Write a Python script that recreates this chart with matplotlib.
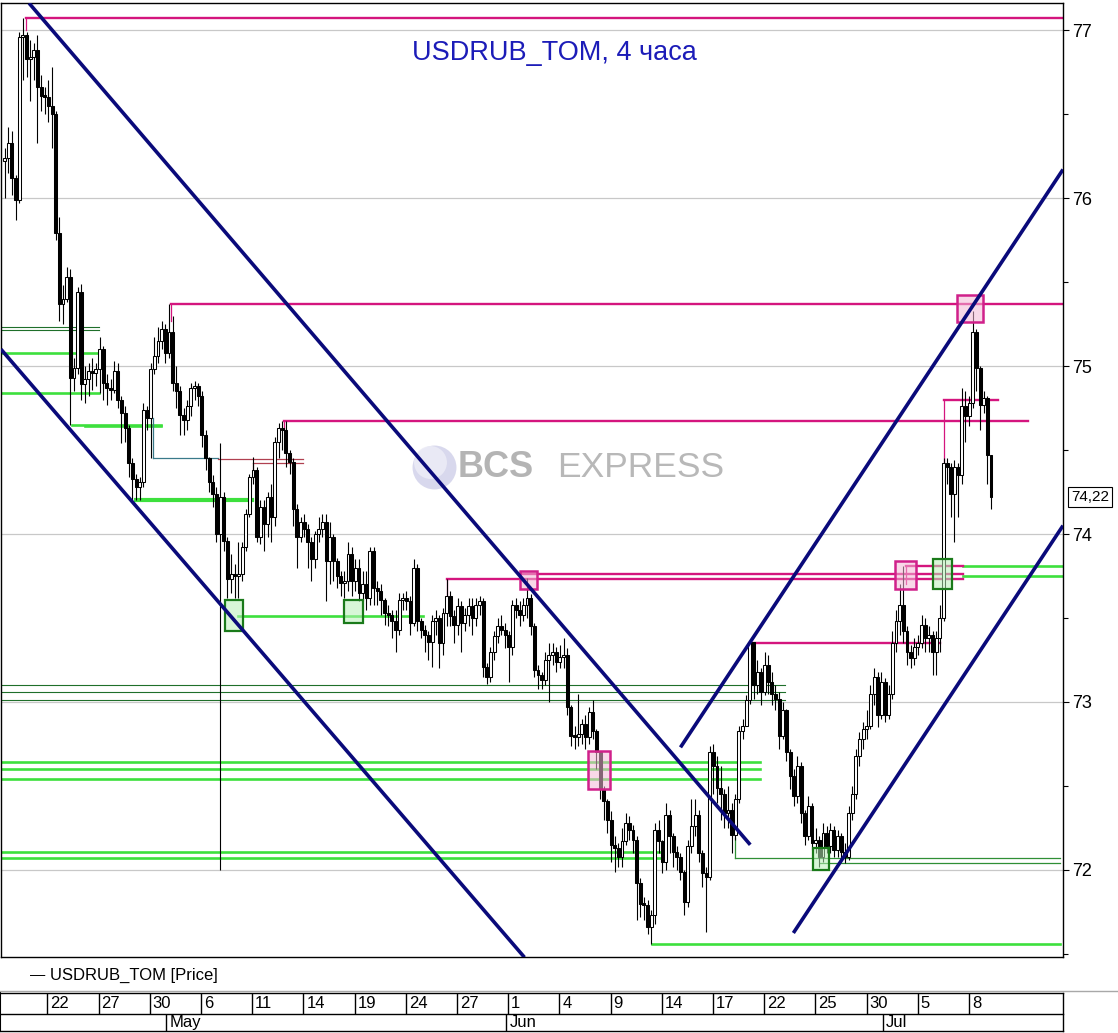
import matplotlib
matplotlib.use("Agg")
import matplotlib.pyplot as plt
import matplotlib.transforms as mtransforms
from matplotlib.lines import Line2D
from matplotlib.patches import Rectangle
import numpy as np

plt.rcParams['font.family'] = ['Liberation Sans', 'DejaVu Sans']

# 4h candles, bar index 0..270 (open of each bar = previous close)
first_open = 76.22
close = [
    76.24, 76.33, 76.12, 75.99, 76.96, 76.97, 76.83, 76.84, 76.88, 76.66,
    76.61, 76.60, 76.55, 76.50, 75.79, 75.37, 75.40, 75.53, 74.93, 74.99,
    75.44, 74.89, 74.92, 74.97, 74.96, 74.98, 75.10, 74.90, 74.87, 74.86,
    74.97, 74.80, 74.72, 74.63, 74.42, 74.33, 74.28, 74.31, 74.74, 74.69,
    74.98, 75.06, 75.15, 75.22, 75.08, 75.20, 74.90, 74.85, 74.71, 74.68,
    74.76, 74.87, 74.88, 74.82, 74.59, 74.45, 74.31, 74.24, 74.00, 74.22,
    73.96, 73.73, 73.76, 73.75, 73.76, 73.92, 74.12, 74.34, 74.38, 73.98,
    74.16, 74.06, 74.22, 74.10, 74.55, 74.63, 74.62, 74.48, 74.43, 74.15,
    73.98, 74.07, 74.03, 73.95, 73.85, 74.00, 74.03, 74.07, 73.84, 73.98,
    73.84, 73.75, 73.71, 73.72, 73.88, 73.72, 73.80, 73.65, 73.70, 73.62,
    73.90, 73.68, 73.66, 73.61, 73.53, 73.52, 73.48, 73.43, 73.61, 73.62,
    73.60, 73.47, 73.80, 73.48, 73.43, 73.40, 73.36, 73.48, 73.50, 73.35,
    73.53, 73.63, 73.51, 73.46, 73.57, 73.47, 73.52, 73.57, 73.50, 73.58,
    73.60, 73.21, 73.15, 73.30, 73.39, 73.45, 73.43, 73.40, 73.33, 73.58,
    73.55, 73.52, 73.58, 73.62, 73.45, 73.19, 73.16, 73.13, 73.25, 73.28,
    73.30, 73.24, 73.27, 73.28, 72.97, 72.80, 72.79, 72.81, 72.87, 72.79,
    72.94, 72.83, 72.70, 72.48, 72.41, 72.30, 72.15, 72.13, 72.08, 72.17,
    72.28, 72.24, 72.18, 71.92, 71.80, 71.79, 71.66, 71.73, 72.24, 72.17,
    72.05, 72.33, 72.20, 72.11, 72.08, 71.99, 71.81, 72.14, 72.26, 72.33,
    72.10, 71.98, 71.96, 72.70, 72.62, 72.49, 72.45, 72.34, 72.36, 72.21,
    72.42, 72.83, 72.86, 73.01, 73.36, 73.10, 73.18, 73.06, 73.22, 73.12,
    73.05, 73.02, 72.80, 72.95, 72.70, 72.56, 72.44, 72.62, 72.34, 72.20,
    72.38, 72.16, 72.18, 72.08, 72.22, 72.14, 72.24, 72.12, 72.20, 72.11,
    72.08, 72.34, 72.45, 72.68, 72.78, 72.84, 72.86, 73.05, 73.15, 72.92,
    73.12, 72.92, 73.05, 73.35, 73.48, 73.58, 73.42, 73.30, 73.26, 73.33,
    73.35, 73.46, 73.38, 73.40, 73.30, 73.38, 73.50, 74.42, 74.40, 74.24,
    74.40, 74.35, 74.76, 74.70, 74.78, 75.20, 74.99, 74.77, 74.81, 74.47,
    74.22]
high = [
    76.30, 76.42, 76.40, 76.14, 76.99, 77.07, 76.99, 76.94, 76.92, 76.97,
    76.73, 76.66, 76.70, 76.78, 76.52, 75.89, 75.48, 75.59, 75.58, 75.05,
    75.47, 75.49, 75.00, 75.02, 75.05, 75.02, 75.17, 75.12, 74.95, 74.92,
    75.03, 75.02, 74.82, 74.76, 74.65, 74.45, 74.36, 74.34, 74.78, 74.76,
    75.02, 75.17, 75.23, 75.27, 75.25, 75.37, 75.30, 75.00, 74.88, 74.75,
    74.80, 74.90, 74.91, 74.90, 74.85, 74.62, 74.46, 74.35, 74.28, 74.54,
    74.25, 73.98, 73.88, 73.82, 73.95, 73.95, 74.15, 74.36, 74.46, 74.40,
    74.20, 74.20, 74.25, 74.30, 74.58, 74.66, 74.67, 74.67, 74.50, 74.45,
    74.18, 74.10, 74.12, 74.06, 73.98, 74.02, 74.10, 74.12, 74.12, 74.07,
    74.00, 73.86, 73.78, 73.78, 73.95, 73.92, 73.85, 73.85, 73.78, 73.78,
    73.92, 73.92, 73.72, 73.70, 73.62, 73.58, 73.55, 73.55, 73.65, 73.65,
    73.66, 73.63, 73.85, 73.82, 73.50, 73.46, 73.42, 73.52, 73.55, 73.52,
    73.56, 73.73, 73.66, 73.55, 73.62, 73.60, 73.56, 73.62, 73.62, 73.62,
    73.63, 73.62, 73.23, 73.33, 73.42, 73.50, 73.52, 73.47, 73.42, 73.61,
    73.62, 73.60, 73.62, 73.74, 73.64, 73.47, 73.22, 73.18, 73.30, 73.35,
    73.35, 73.33, 73.34, 73.38, 73.32, 72.98, 72.86, 73.05, 72.90, 72.92,
    72.97, 73.01, 72.84, 72.70, 72.50, 72.42, 72.35, 72.20, 72.16, 72.25,
    72.34, 72.32, 72.27, 72.20, 71.95, 71.84, 71.82, 71.76, 72.28, 72.30,
    72.18, 72.40, 72.36, 72.22, 72.14, 72.10, 72.00, 72.18, 72.42, 72.42,
    72.36, 72.12, 72.02, 72.74, 72.75, 72.68, 72.62, 72.48, 72.50, 72.40,
    72.45, 72.86, 72.90, 73.04, 73.35, 73.28, 73.25, 73.20, 73.30, 73.28,
    73.18, 73.10, 73.06, 73.00, 72.96, 72.72, 72.60, 72.68, 72.64, 72.36,
    72.44, 72.40, 72.25, 72.20, 72.28, 72.26, 72.28, 72.26, 72.24, 72.22,
    72.16, 72.38, 72.50, 72.72, 72.82, 72.88, 72.95, 73.10, 73.20, 73.18,
    73.18, 73.14, 73.10, 73.42, 73.55, 73.70, 73.81, 73.45, 73.34, 73.38,
    73.40, 73.52, 73.50, 73.45, 73.42, 73.42, 73.58, 74.45, 74.45, 74.42,
    74.44, 74.42, 74.87, 74.85, 74.82, 75.33, 75.22, 75.00, 74.85, 74.82,
    74.46]
low = [
    76.00, 76.15, 76.02, 75.87, 75.97, 76.70, 76.72, 76.58, 76.70, 76.33,
    76.52, 76.50, 76.45, 76.30, 75.75, 75.27, 75.25, 75.38, 74.65, 74.85,
    74.95, 74.80, 74.78, 74.82, 74.86, 74.88, 74.84, 74.80, 74.77, 74.80,
    74.84, 74.75, 74.54, 74.55, 74.34, 74.20, 74.20, 74.20, 74.28, 74.62,
    74.45, 74.95, 75.02, 75.10, 75.02, 75.05, 74.85, 74.75, 74.59, 74.59,
    74.62, 74.70, 74.80, 74.76, 74.52, 74.38, 74.25, 74.16, 73.95, 72.00,
    73.90, 73.62, 73.65, 73.62, 73.62, 73.72, 73.90, 74.10, 74.30, 73.95,
    73.94, 73.90, 73.98, 73.95, 74.05, 74.45, 74.50, 74.40, 74.36, 74.05,
    73.80, 73.95, 73.98, 73.80, 73.72, 73.80, 73.95, 73.98, 73.60, 73.70,
    73.72, 73.68, 73.63, 73.62, 73.66, 73.63, 73.66, 73.60, 73.60, 73.55,
    73.58, 73.58, 73.58, 73.52, 73.46, 73.45, 73.38, 73.30, 73.40, 73.55,
    73.55, 73.40, 73.45, 73.42, 73.38, 73.30, 73.25, 73.21, 73.40, 73.20,
    73.28, 73.45, 73.45, 73.35, 73.40, 73.30, 73.42, 73.45, 73.40, 73.45,
    73.52, 73.15, 73.11, 73.12, 73.25, 73.35, 73.40, 73.32, 73.12, 73.28,
    73.50, 73.45, 73.48, 73.50, 73.40, 73.15, 73.08, 73.08, 73.10, 73.00,
    73.22, 73.18, 73.20, 73.20, 72.92, 72.74, 72.72, 72.74, 72.75, 72.72,
    72.75, 72.78, 72.60, 72.42, 72.30, 72.22, 72.05, 71.99, 72.02, 72.02,
    72.15, 72.18, 72.10, 71.70, 71.72, 71.70, 71.62, 71.56, 71.68, 72.10,
    71.98, 72.00, 72.10, 72.02, 72.00, 71.94, 71.73, 71.78, 72.10, 72.20,
    72.05, 71.90, 71.63, 71.94, 72.45, 72.40, 72.30, 72.25, 72.25, 72.10,
    72.18, 72.40, 72.78, 72.86, 72.99, 73.02, 73.05, 72.98, 73.04, 73.05,
    72.98, 72.95, 72.72, 72.78, 72.65, 72.48, 72.38, 72.40, 72.28, 72.15,
    72.18, 72.12, 72.10, 72.02, 72.05, 72.10, 72.10, 72.08, 72.08, 72.06,
    72.04, 72.06, 72.30, 72.42, 72.62, 72.72, 72.78, 72.84, 72.98, 72.85,
    72.90, 72.88, 72.90, 73.02, 73.30, 73.40, 73.35, 73.22, 73.20, 73.22,
    73.28, 73.32, 73.30, 73.30, 73.16, 73.16, 73.30, 73.48, 74.30, 74.10,
    73.95, 74.10, 74.30, 74.55, 74.64, 74.75, 74.85, 74.62, 74.72, 74.30,
    74.15]
last_price = 74.22

# date strip
day_labels = ['22', '27', '30', '6', '11', '14', '19', '24', '27', '1',
              '4', '9', '14', '17', '22', '25', '30', '5', '8']
day_bars = [12 + 14 * k for k in range(len(day_labels))]
month_labels = ['May', 'Jun', 'Jul']
month_bars = [44.5, 137.5, 240.5]

# drawn levels: (price, from bar, to bar)
magenta_lines = [(77.07, 5.9, 289.7), (75.37, 45.5, 289.7), (74.67, 76.4, 280.1),
                 (74.80, 257.2, 271.9), (73.73, 121.0, 262.4), (73.76, 141.0, 262.4),
                 (73.81, 246.8, 262.4), (73.35, 204.1, 256.1)]
magenta_drops = [(5.9, 77.07, 77.0), (45.5, 75.37, 75.27), (257.2, 74.80, 74.42),
                 (121.0, 73.73, 73.63), (246.8, 73.81, 73.70), (76.4, 74.67, 74.62)]
green_lines = [(75.08, -1, 25.8), (74.84, -1, 25.8), (74.65, 18.4, 42.8),
               (74.64, 22.0, 42.8), (73.51, 63.8, 114.4), (72.64, -1, 206.8),
               (72.60, -1, 206.8), (72.54, -1, 206.8), (72.11, -1, 179.5),
               (72.07, -1, 179.5), (71.56, 177.3, 289.0), (73.81, 262.4, 289.7),
               (73.75, 262.4, 289.7)]
green_thick = [(74.20, 35.9, 67.7)]
dark_green_lines = [(75.23, -1, 25.8), (75.215, -1, 25.8), (73.10, -1, 213.7),
                    (73.06, -1, 213.7), (73.01, -1, 213.7)]
mid_green_lines = [(72.07, 200.0, 289.0), (72.04, 223.2, 289.0)]
teal_lines = [(74.45, 40.6, 58.4)]
red_lines = [(74.445, 58.4, 81.6), (74.42, 67.9, 81.6)]

magenta_boxes = [(260.7, 267.8, 75.26, 75.42), (243.8, 249.5, 73.67, 73.84),
                 (141.0, 145.6, 73.67, 73.78), (159.8, 165.8, 72.48, 72.71)]
green_boxes = [(254.1, 259.3, 73.67, 73.85), (60.3, 65.2, 73.42, 73.61),
               (92.8, 98.0, 73.47, 73.61), (221.3, 225.7, 72.00, 72.13)]

trend_lines = [(6.7, 77.16, 204.1, 72.15), (-1.0, 75.10, 142.3, 71.48),
               (185.0, 72.73, 289.7, 76.17), (215.9, 71.625, 289.7, 74.05)]

W, H = 1118, 1033
fig = plt.figure(figsize=(W / 100, H / 100), dpi=100)
ax = fig.add_axes([1 / W, 1 - 957 / H, 1062 / W, 954 / H])
xmin, xmax = -0.98, 289.7
ax.set_xlim(xmin, xmax)
ax.set_ylim(71.482, 77.161)

for p in range(72, 78):
    ax.axhline(p, color='#c8c8c8', lw=0.9, zorder=1)

# overlay levels
for p, a, b in dark_green_lines:
    ax.plot([a, b], [p, p], color='#1f6f2a', lw=0.8, zorder=2)
for p, a, b in mid_green_lines:
    ax.plot([a, b], [p, p], color='#2f8f35', lw=0.9, zorder=2)
ax.plot([200.0, 200.0], [72.19, 72.07], color='#2f8f35', lw=0.9, zorder=2)
for p, a, b in green_lines:
    ax.plot([a, b], [p, p], color='#3de03d', lw=1.9, zorder=2)
for p, a, b in green_thick:
    ax.plot([a, b], [p, p], color='#3de03d', lw=3.0, zorder=2)
for p, a, b in teal_lines:
    ax.plot([a, b], [p, p], color='#3a7a8a', lw=0.9, zorder=2)
ax.plot([40.6, 40.6], [74.69, 74.45], color='#3a7a8a', lw=0.9, zorder=2)
for p, a, b in red_lines:
    ax.plot([a, b], [p, p], color='#b04050', lw=0.9, zorder=2)
ax.plot([67.9, 67.9], [74.42, 74.34], color='#b04050', lw=0.9, zorder=2)
for p, a, b in magenta_lines:
    ax.plot([a, b], [p, p], color='#d4157e', lw=1.7, zorder=2)
for xx, p0, p1 in magenta_drops:
    ax.plot([xx, xx], [p0, p1], color='#d4157e', lw=0.9, zorder=2)

# watermark
wx, wy = 433 / 1062, 1 - (467 - 3) / 954
ax.scatter([wx], [wy], s=1000, color='#d2d2ea', alpha=0.85, transform=ax.transAxes,
           zorder=1.5, linewidths=0)
ax.scatter([wx - 0.004], [wy + 0.005], s=560, color='#ececf6', alpha=0.9,
           transform=ax.transAxes, zorder=1.6, linewidths=0)
ax.text(457 / 1062, wy, 'BCS', fontsize=26, fontweight='bold', color='#b4b4b4',
        ha='left', va='center', transform=ax.transAxes, zorder=1.5)
ax.text(556 / 1062, wy, 'EXPRESS', fontsize=25.5, color='#b8b8b8',
        ha='left', va='center', transform=ax.transAxes, zorder=1.5)

# candles
c = np.array(close)
o = np.array([first_open] + close[:-1])
h = np.maximum(np.array(high), np.maximum(o, c))
l = np.minimum(np.array(low), np.minimum(o, c))
x = np.arange(len(c))
ax.vlines(x, l, h, color='black', lw=0.8, zorder=3)
up = c >= o
ax.bar(x, np.maximum(np.abs(c - o), 0.012), bottom=np.minimum(o, c), width=0.8,
       color=np.where(up, 'white', 'black'), edgecolor='black', linewidth=0.75, zorder=4)

# boxes
for a, b, p0, p1 in magenta_boxes:
    ax.add_patch(Rectangle((a, p0), b - a, p1 - p0, facecolor='#f4b8d6', alpha=0.55,
                           edgecolor='none', zorder=5))
    ax.add_patch(Rectangle((a, p0), b - a, p1 - p0, facecolor='none',
                           edgecolor='#d0208a', lw=1.8, zorder=6))
for a, b, p0, p1 in green_boxes:
    ax.add_patch(Rectangle((a, p0), b - a, p1 - p0, facecolor='#b8f0b8', alpha=0.55,
                           edgecolor='none', zorder=5))
    ax.add_patch(Rectangle((a, p0), b - a, p1 - p0, facecolor='none',
                           edgecolor='#1a7a1a', lw=1.6, zorder=6))

# trend channel lines
for x0, p0, x1, p1 in trend_lines:
    ax.plot([x0, x1], [p0, p1], color='#0a0a7a', lw=2.6, zorder=7,
            solid_capstyle='butt')

# axes styling
ax.set_xticks([])
ax.yaxis.tick_right()
ax.set_yticks(range(72, 78))
ax.set_yticks(np.arange(71.5, 77.0, 1.0), minor=True)
ax.tick_params(axis='y', which='major', length=4.5, width=0.8, labelsize=13, pad=2)
ax.tick_params(axis='y', which='minor', length=3.5, width=0.8)
for s in ax.spines.values():
    s.set_color('black')
    s.set_linewidth(1.0)

ax.text(553 / 1062, 1 - 50 / 954, 'USDRUB_TOM, 4 часа', color='#1c1cb8',
        fontsize=19.5, ha='center', va='center', transform=ax.transAxes, zorder=8)

trans = mtransforms.blended_transform_factory(ax.transAxes, ax.transData)
ax.text(1089 / 1062, last_price, '74,22', transform=trans, fontsize=11,
        ha='center', va='center', clip_on=False,
        bbox=dict(boxstyle='square,pad=0.18', fc='white', ec='black', lw=0.8))

# legend row
fig.text(30 / W, 1 - 975 / H, '—', fontsize=11, va='center', ha='left')
fig.text(50 / W, 1 - 975 / H, 'USDRUB_TOM [Price]', fontsize=12, va='center', ha='left')
fig.add_artist(Line2D([0, 1], [1 - 991 / H] * 2, transform=fig.transFigure,
                      color='#a8a8a8', lw=1))

# date strip
dax = fig.add_axes([0, 1 - 1031 / H, 1063 / W, 38 / H])
dax.set_xlim(xmin, xmax)
dax.set_ylim(0, 38)
dax.axis('off')
for yy in (0, 17, 38):
    dax.plot([xmin, xmax], [yy, yy], color='black', lw=1, clip_on=False)
dax.plot([xmin, xmin], [0, 38], color='black', lw=1.5, clip_on=False)
dax.plot([xmax, xmax], [0, 38], color='black', lw=1, clip_on=False)
dax.vlines(day_bars, 17, 38, color='black', lw=1)
dax.vlines(month_bars, 0, 17, color='black', lw=1)
for b, lab in zip(day_bars, day_labels):
    dax.text(b + 0.8, 27.3, lab, fontsize=12, ha='left', va='center')
for b, lab in zip(month_bars, month_labels):
    dax.text(b + 0.8, 8.3, lab, fontsize=12, ha='left', va='center')

fig.savefig('out.png', dpi=100)
